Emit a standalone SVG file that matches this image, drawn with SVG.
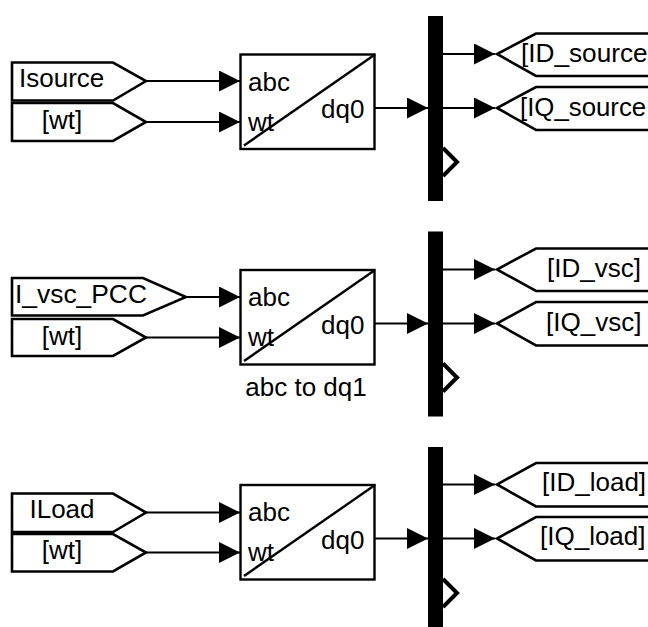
<svg xmlns="http://www.w3.org/2000/svg" width="648" height="627" viewBox="0 0 648 627">
<defs>
<marker id="ah" markerUnits="userSpaceOnUse" markerWidth="22" markerHeight="22" refX="21" refY="10.5" orient="auto"><path d="M0 0L21 10.5L0 21Z" fill="#000"/></marker>
<g id="dq"><rect x="240.500" y="0" width="134" height="94.500" class="s"/><path d="M244 91L375 0" class="s"/><text x="248" y="36" class="t">abc</text><text x="248" y="76" class="t">wt</text><text x="321" y="63.500" class="t">dq0</text></g>
<g id="bar"><rect x="428" y="0" width="15" height="185" fill="#000"/><path d="M443 132L457 146L443 160" fill="none" stroke="#000" stroke-width="4"/></g>
</defs>
<style>
.s{fill:none;stroke:#000;stroke-width:2.4}
.w{fill:#fff;stroke:#000;stroke-width:2.6}
.c{fill:none;stroke:#000;stroke-width:2.2;marker-end:url(#ah)}
.t{font-family:"Liberation Sans",Arial,sans-serif;font-size:26px;fill:#000}
.m{text-anchor:middle}
</style>
<rect width="648" height="627" fill="#fff"/>
<g id="connectors">
<path class="c" d="M146 81H240"/><path class="c" d="M146 122H240"/><path class="c" d="M375 108H428"/><path class="c" d="M443 54H495"/><path class="c" d="M443 108H495"/>
<path class="c" d="M186 297H240"/><path class="c" d="M146 337.500H240"/><path class="c" d="M375 323.500H428"/><path class="c" d="M443 269.500H495"/><path class="c" d="M443 323.500H495"/>
<path class="c" d="M146 512.500H240"/><path class="c" d="M146 552.500H240"/><path class="c" d="M375 538.500H428"/><path class="c" d="M443 484.500H495"/><path class="c" d="M443 538.500H495"/>
</g>
<g id="from-isource"><path class="w" d="M12 62.500H113L146 81L113 100.500H12Z"/><text x="19" y="87" class="t">Isource</text></g>
<g id="from-wt-1"><path class="w" d="M12 103H113L146 122L113 141H12Z"/><text x="62" y="129" class="t m">[wt]</text></g>
<g id="dq-1"><use href="#dq" y="54.500"/></g>
<g id="demux-1"><use href="#bar" y="16"/></g>
<g id="goto-id-source"><path class="w" d="M650 33.500H536L497 54L536 76H650Z"/><text x="521" y="61.500" class="t" style="font-size:26.200px">[ID_source</text></g>
<g id="goto-iq-source"><path class="w" d="M650 87H536L497 108L536 130H650Z"/><text x="520" y="115.500" class="t" style="font-size:25.800px">[IQ_source</text></g>
<g id="from-ivsc"><path class="w" d="M12 278H143L186 297L143 315.500H12Z"/><text x="15" y="302.500" class="t" style="font-size:26.400px">I_vsc_PCC</text></g>
<g id="from-wt-2"><path class="w" d="M12 319H113L146 337.500L113 356H12Z"/><text x="62" y="345" class="t m">[wt]</text></g>
<g id="dq-2"><use href="#dq" y="270"/><text x="306" y="396" class="t m">abc to dq1</text></g>
<g id="demux-2"><use href="#bar" y="231.500"/></g>
<g id="goto-id-vsc"><path class="w" d="M650 248.500H536L497 269.500L536 291H650Z"/><text x="547" y="276.500" class="t">[ID_vsc]</text></g>
<g id="goto-iq-vsc"><path class="w" d="M650 302H536L497 323.500L536 345.500H650Z"/><text x="546" y="330.500" class="t">[IQ_vsc]</text></g>
<g id="from-iload"><path class="w" d="M12 493.500H113L146 512.500L113 532H12Z"/><text x="62" y="518" class="t m">ILoad</text></g>
<g id="from-wt-3"><path class="w" d="M12 534H113L146 552.500L113 571.500H12Z"/><text x="62" y="559" class="t m">[wt]</text></g>
<g id="dq-3"><use href="#dq" y="485"/></g>
<g id="demux-3"><use href="#bar" y="447"/></g>
<g id="goto-id-load"><path class="w" d="M650 463H536L497 484.500L536 506.500H650Z"/><text x="542" y="491" class="t">[ID_load]</text></g>
<g id="goto-iq-load"><path class="w" d="M650 517H536L497 538.500L536 560.500H650Z"/><text x="540" y="545" class="t">[IQ_load]</text></g>
</svg>
